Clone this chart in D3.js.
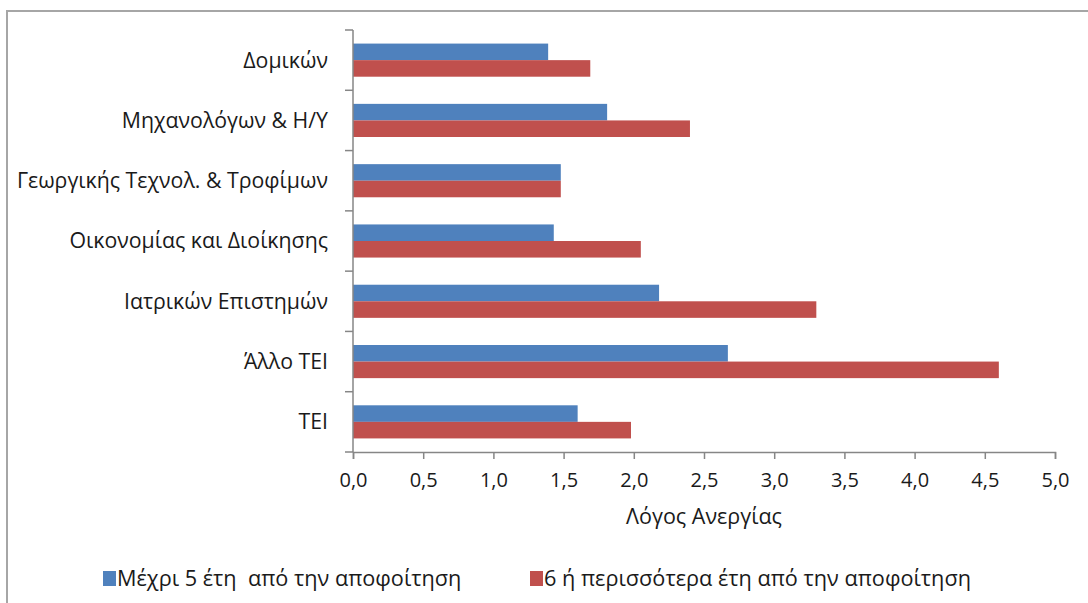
<!DOCTYPE html>
<html><head><meta charset="utf-8">
<script src="https://cdn.jsdelivr.net/npm/d3@7"></script>
<style>
html,body{margin:0;padding:0;background:#fff;}
svg text{font-family:"Open Sans",sans-serif;fill:#1a1a1a;}
</style></head>
<body>
<svg id="c" width="1088" height="603"></svg>
<script>
const categories = ["Δομικών","Μηχανολόγων & Η/Υ","Γεωργικής Τεχνολ. & Τροφίμων","Οικονομίας και Διοίκησης","Ιατρικών Επιστημών","Άλλο ΤΕΙ","ΤΕΙ"];
const seriesNames = ["Μέχρι 5 έτη  από την αποφοίτηση","6 ή περισσότερα έτη από την αποφοίτηση"];
const upTo5 = [1.39, 1.81, 1.48, 1.43, 2.18, 2.67, 1.60];
const sixPlus = [1.69, 2.40, 1.48, 2.05, 3.30, 4.60, 1.98];
const xTicks = [0,0.5,1,1.5,2,2.5,3,3.5,4,4.5,5];
const colors = ["#4f81bd","#c0504d"];
const xTitle = "Λόγος Ανεργίας";

const svg = d3.select("#c");
svg.append("rect").attr("x",7).attr("y",11).attr("width",1100).attr("height",620)
  .attr("fill","none").attr("stroke","#a6a6a6").attr("stroke-width",2);

const L=353, R=1055, T=30, B=452;
const x = d3.scaleLinear().domain([0,5]).range([L,R]);
const y = d3.scaleBand().domain(categories).range([T,B]);
const inner = d3.scaleBand().domain([0,1]).range([0,y.bandwidth()]).paddingOuter(0.82).paddingInner(0);

const g = svg.append("g");
categories.forEach((c,i)=>{
  [upTo5[i], sixPlus[i]].forEach((v,s)=>{
    g.append("rect").attr("x",x(0)).attr("y",y(c)+inner(s))
      .attr("width",x(v)-x(0)).attr("height",inner.bandwidth())
      .attr("fill",colors[s]);
  });
});

const ya = svg.append("g");
ya.append("line").attr("x1",L).attr("x2",L).attr("y1",T).attr("y2",B).attr("stroke","#868686").attr("stroke-width",1.5);
const bounds = categories.map(c=>y(c)).concat([B]);
bounds.forEach(b=>ya.append("line").attr("x1",L-8).attr("x2",L).attr("y1",b).attr("y2",b).attr("stroke","#868686").attr("stroke-width",1.5));
categories.forEach(c=>{
  ya.append("text").attr("x",328).attr("y",y(c)+y.bandwidth()/2).attr("dy","0.35em")
    .attr("text-anchor","end").attr("font-size",21.3).text(c);
});

const xa = svg.append("g").attr("transform",`translate(0,${B})`)
  .call(d3.axisBottom(x).tickValues(xTicks).tickSize(7).tickPadding(14)
    .tickFormat(d=>d3.format(".1f")(d).replace(".",",")));
xa.select(".domain").attr("stroke","#868686").attr("stroke-width",1.5);
xa.selectAll(".tick line").attr("stroke","#868686").attr("stroke-width",1.5);
xa.selectAll("text").attr("font-size",20).attr("font-family","'Open Sans',sans-serif").attr("fill","#1a1a1a");

svg.append("text").attr("x",(L+R)/2).attr("y",524).attr("text-anchor","middle").attr("font-size",21.5).text(xTitle);

const legX = [103, 530];
seriesNames.forEach((n,i)=>{
  svg.append("rect").attr("x",legX[i]).attr("y",571).attr("width",13).attr("height",15).attr("fill",colors[i]);
  svg.append("text").attr("x",legX[i]+14).attr("y",586).attr("font-size",21.7)
    .style("white-space","pre").text(n);
});
</script>
</body></html>
